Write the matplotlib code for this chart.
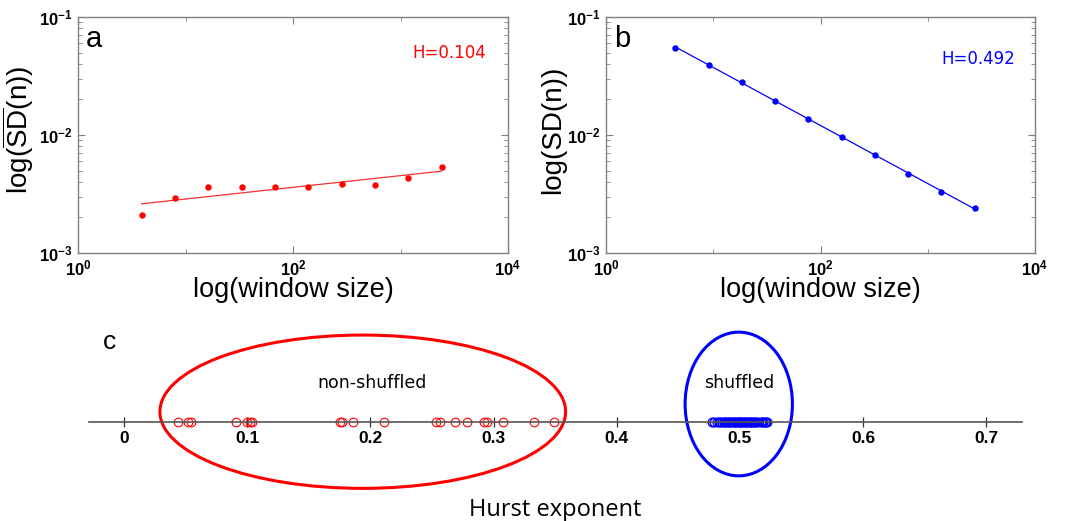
import numpy as np
import matplotlib
matplotlib.use("Agg")
import matplotlib.pyplot as plt
from matplotlib.patches import Ellipse
from matplotlib.ticker import FixedLocator, FixedFormatter, LogLocator, NullFormatter

plt.rcParams['font.family'] = ['Liberation Sans', 'DejaVu Sans']
plt.rcParams['mathtext.fontset'] = 'custom'
plt.rcParams['mathtext.rm'] = 'Liberation Sans'
plt.rcParams['mathtext.bf'] = 'Liberation Sans:bold'
plt.rcParams['mathtext.it'] = 'Liberation Sans:italic'

# ---------------- data ----------------
window_a = [3.91, 7.98, 16.3, 33.3, 67.9, 138.7, 283, 578, 1180, 2410]
sd_a = [0.00208, 0.00292, 0.00366, 0.00359, 0.00366, 0.00361, 0.00385, 0.00376, 0.00436, 0.00537]
window_b = [4.43, 9.05, 18.5, 37.7, 77.0, 157, 321, 655, 1337, 2730]
sd_b = [0.0551, 0.0393, 0.0279, 0.0196, 0.01374, 0.00968, 0.00678, 0.00468, 0.00330, 0.00242]
h_label_a = "H=0.104"
h_label_b = "H=0.492"

hurst_nonshuffled = [0.0441, 0.0517, 0.0541, 0.0907, 0.0996, 0.1023, 0.1039, 0.1756, 0.1772, 0.1859,
                     0.2113, 0.2532, 0.2565, 0.2689, 0.2787, 0.2922, 0.2944, 0.3074, 0.3326, 0.3490]
hurst_shuffled = [0.477, 0.479, 0.481, 0.483, 0.484, 0.485, 0.487, 0.488, 0.489, 0.490, 0.491, 0.492,
                  0.493, 0.494, 0.495, 0.496, 0.497, 0.498, 0.499, 0.500, 0.501, 0.502, 0.503, 0.504,
                  0.505, 0.506, 0.507, 0.508, 0.509, 0.510, 0.511, 0.512, 0.513, 0.515, 0.517, 0.518,
                  0.519, 0.520, 0.521, 0.522]
c_ticks = [0, 0.1, 0.2, 0.3, 0.4, 0.5, 0.6, 0.7]
c_tick_labels = ['0', '0.1', '0.2', '0.3', '0.4', '0.5', '0.6', '0.7']
x_log_ticks = [1, 100, 10000]
x_log_labels = [r'$\mathbf{10^{0}}$', r'$\mathbf{10^{2}}$', r'$\mathbf{10^{4}}$']
y_log_ticks = [1e-3, 1e-2, 1e-1]
y_log_labels = [r'$\mathbf{10^{-3}}$', r'$\mathbf{10^{-2}}$', r'$\mathbf{10^{-1}}$']

W, H = 1081, 521
fig = plt.figure(figsize=(W / 100, H / 100), dpi=100)


def px_rect(l, t, r, b):
    return [l / W, (H - b) / H, (r - l) / W, (b - t) / H]


def style_log(ax):
    ax.set_xscale('log')
    ax.set_yscale('log')
    ax.set_xlim(1, 1e4)
    ax.set_ylim(1e-3, 1e-1)
    ax.xaxis.set_major_locator(FixedLocator(x_log_ticks))
    ax.xaxis.set_major_formatter(FixedFormatter(x_log_labels))
    ax.yaxis.set_major_locator(FixedLocator(y_log_ticks))
    ax.yaxis.set_major_formatter(FixedFormatter(y_log_labels))
    ax.xaxis.set_minor_locator(LogLocator(base=10, subs=(10.0,), numticks=10))
    ax.yaxis.set_minor_locator(LogLocator(base=10, subs=np.arange(2, 10), numticks=20))
    ax.xaxis.set_minor_formatter(NullFormatter())
    ax.yaxis.set_minor_formatter(NullFormatter())
    ax.tick_params(which='both', direction='in', top=True, right=True, colors='#808080',
                   labelcolor='black', labelsize=12)
    ax.tick_params(which='major', length=5, width=0.8, pad=4)
    ax.tick_params(axis='x', which='major', pad=4)
    ax.tick_params(which='minor', length=3, width=0.6)
    for s in ax.spines.values():
        s.set_color('#808080')
        s.set_linewidth(1.0)
    ax.set_xlabel('log(window size)', fontsize=19.5)
    ax.xaxis.set_label_coords(0.5, -0.1)


# ---------------- panel a ----------------
axa = fig.add_axes(px_rect(78, 17, 508, 253))
style_log(axa)
xa = np.array(window_a)
ya = np.array(sd_a)
pa = np.polyfit(np.log10(xa), np.log10(ya), 1)
axa.plot(xa, 10 ** np.polyval(pa, np.log10(xa)), color='#ff3030', lw=0.9)
axa.plot(xa, ya, 'o', color='red', ms=3.6, mec='red')
axa.set_ylabel(r'log($\overline{\mathrm{SD}}$(n))', fontsize=20)
axa.yaxis.set_label_coords(-0.097, 0.52)
axa.text(0.019, 0.873, 'a', transform=axa.transAxes, fontsize=21, va='baseline', ha='left')
axa.text(0.95, 0.848, h_label_a, transform=axa.transAxes, fontsize=12, color='red',
         ha='right', va='center', family='DejaVu Sans')

# ---------------- panel b ----------------
axb = fig.add_axes(px_rect(606, 17, 1035, 253))
style_log(axb)
xb = np.array(window_b)
yb = np.array(sd_b)
pb = np.polyfit(np.log10(xb), np.log10(yb), 1)
axb.plot(xb, 10 ** np.polyval(pb, np.log10(xb)), color='blue', lw=0.9)
axb.plot(xb, yb, 'o', color='blue', ms=3.6, mec='blue')
axb.set_ylabel('log(SD(n))', fontsize=20)
axb.yaxis.set_label_coords(-0.094, 0.52)
axb.text(0.019, 0.873, 'b', transform=axb.transAxes, fontsize=21, va='baseline', ha='left')
axb.text(0.954, 0.822, h_label_b, transform=axb.transAxes, fontsize=12, color='blue',
         ha='right', va='center', family='DejaVu Sans')

# ---------------- panel c ----------------
axc = fig.add_axes(px_rect(89, 325, 1022, 495))
axc.set_xlim(-0.0284, 0.7289)
axc.set_ylim(-73, 97)
for side in ['top', 'right', 'left']:
    axc.spines[side].set_visible(False)
axc.spines['bottom'].set_position(('data', 0))
axc.spines['bottom'].set_color('#555555')
axc.spines['bottom'].set_linewidth(1.2)
axc.set_yticks([])
axc.set_xticks(c_ticks)
axc.set_xticklabels(c_tick_labels, fontweight='bold', fontsize=12.5, family='Liberation Sans')
axc.tick_params(axis='x', direction='inout', length=7, width=0.9, color='#333333', pad=3)
axc.patch.set_alpha(0)

axc.plot(hurst_nonshuffled, np.zeros(len(hurst_nonshuffled)), 'o', mfc='none', mec='red',
         ms=6.2, mew=0.8, clip_on=False)
axc.plot(hurst_shuffled, np.zeros(len(hurst_shuffled)), 'o', mfc='none', mec='blue',
         ms=6.2, mew=1.0, clip_on=False)

axc.add_patch(Ellipse((0.1938, 10.3), 0.3293, 153.3, fill=False, ec='red', lw=2.2, clip_on=False))
axc.add_patch(Ellipse((0.499, 18.0), 0.0871, 143.7, fill=False, ec='blue', lw=2.2, clip_on=False))
axc.text(0.2013, 39, 'non-shuffled', ha='center', va='center', fontsize=12.5, family='DejaVu Sans')
axc.text(0.4992, 39, 'shuffled', ha='center', va='center', fontsize=12.5, family='DejaVu Sans')

fig.text(103 / W, (H - 349) / H, 'c', fontsize=19, ha='left', va='baseline')
fig.text(555 / W, (H - 516) / H, 'Hurst exponent', fontsize=17, ha='center', va='baseline',
         family='Open Sans')

fig.savefig('out.png', dpi=100)
